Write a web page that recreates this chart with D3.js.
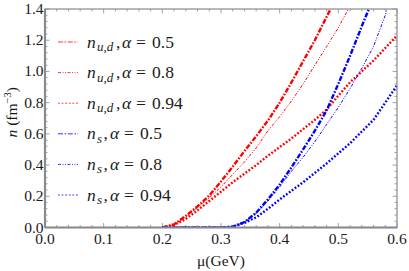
<!DOCTYPE html>
<html>
<head>
<meta charset="utf-8">
<script src="https://cdn.jsdelivr.net/npm/d3@7"></script>
<style>
  body { margin: 0; background: #fff; }
  text { font-family: "Liberation Serif", "DejaVu Serif", serif; }
</style>
</head>
<body>
<div id="chart"></div>
<script>
// data: [mu (GeV), n (fm^-3)]
const udAlpha05 = [[0.20,0],[0.22,0.02],[0.24,0.075],[0.26,0.135],[0.28,0.205],[0.30,0.295],[0.32,0.39],[0.33,0.44],[0.34,0.49],[0.36,0.585],[0.38,0.685],[0.40,0.80],[0.42,0.93],[0.44,1.065],[0.46,1.20],[0.48,1.35],[0.487,1.40]];
const udAlpha08 = [[0.20,0],[0.22,0.02],[0.24,0.07],[0.26,0.13],[0.28,0.19],[0.30,0.26],[0.32,0.34],[0.34,0.42],[0.36,0.51],[0.38,0.62],[0.40,0.71],[0.42,0.81],[0.44,0.92],[0.46,1.04],[0.48,1.16],[0.50,1.28],[0.517,1.40]];
const udAlpha094 = [[0.20,0],[0.22,0.015],[0.24,0.055],[0.26,0.11],[0.28,0.17],[0.30,0.23],[0.32,0.29],[0.34,0.345],[0.36,0.40],[0.38,0.46],[0.40,0.515],[0.42,0.57],[0.44,0.63],[0.46,0.69],[0.48,0.755],[0.50,0.845],[0.52,0.93],[0.54,1.00],[0.56,1.07],[0.58,1.15],[0.60,1.23]];
const sAlpha05 = [[0.20,0],[0.30,0],[0.32,0.005],[0.34,0.035],[0.36,0.095],[0.38,0.18],[0.40,0.275],[0.42,0.385],[0.44,0.50],[0.46,0.62],[0.48,0.75],[0.50,0.92],[0.52,1.10],[0.54,1.29],[0.552,1.40]];
const sAlpha08 = [[0.20,0],[0.30,0],[0.32,0.005],[0.34,0.035],[0.36,0.09],[0.38,0.17],[0.40,0.26],[0.42,0.36],[0.44,0.45],[0.46,0.55],[0.48,0.66],[0.50,0.77],[0.52,0.89],[0.54,1.02],[0.56,1.16],[0.58,1.36],[0.583,1.40]];
const sAlpha094 = [[0.20,0],[0.30,0],[0.32,0.005],[0.34,0.03],[0.36,0.065],[0.38,0.12],[0.40,0.18],[0.42,0.235],[0.44,0.29],[0.46,0.35],[0.48,0.41],[0.50,0.475],[0.52,0.54],[0.54,0.615],[0.56,0.69],[0.58,0.80],[0.60,0.91]];

const xTicks = [0.0, 0.1, 0.2, 0.3, 0.4, 0.5, 0.6];
const yTicks = [0.0, 0.2, 0.4, 0.6, 0.8, 1.0, 1.2, 1.4];
const alphaLabels = ["0.5", "0.8", "0.94", "0.5", "0.8", "0.94"];
const flavours = ["u,d", "u,d", "u,d", "s", "s", "s"];

const series = [
  { data: udAlpha05, color: "#ff0000", width: 2.4, dash: "5,1.6,1.6,1.6" },
  { data: udAlpha08, color: "#ff0000", width: 1, dash: "3,1.5,1,1.5,1,1.5" },
  { data: udAlpha094, color: "#ff0000", width: 2.4, dash: "1.8,1.8" },
  { data: sAlpha05, color: "#0000ff", width: 2.4, dash: "5,1.6,1.6,1.6" },
  { data: sAlpha08, color: "#0000ff", width: 1, dash: "3,1.5,1,1.5,1,1.5" },
  { data: sAlpha094, color: "#0000ff", width: 2.4, dash: "1.8,1.8" }
];

const width = 409, height = 271;
const margin = { left: 45, right: 12, top: 9, bottom: 43.5 };
const frameColor = "#8a8a8a";
const serif = "\"Liberation Serif\", \"DejaVu Serif\", serif";

const svg = d3.select("#chart").append("svg")
  .attr("width", width).attr("height", height);

const xScale = d3.scaleLinear().domain([0, 0.6]).range([margin.left, width - margin.right]);
const yScale = d3.scaleLinear().domain([0, 1.4]).range([height - margin.bottom, margin.top]);

const x0 = xScale(0), x1 = xScale(0.6), y0 = yScale(0), y1 = yScale(1.4);

// clip for curves
svg.append("clipPath").attr("id", "plotClip")
  .append("rect").attr("x", x0).attr("y", y1).attr("width", x1 - x0).attr("height", y0 - y1);

// minor and major ticks on all four sides
const xMinor = d3.range(0, 0.6001, 0.02);
const yMinor = d3.range(0, 1.4001, 0.04);
const tickG = svg.append("g").attr("stroke", frameColor).attr("stroke-width", 0.8);

xMinor.forEach(v => {
  const major = xTicks.some(t => Math.abs(t - v) < 1e-6);
  const len = major ? 4.5 : 2.5;
  tickG.append("line").attr("x1", xScale(v)).attr("x2", xScale(v)).attr("y1", y0).attr("y2", y0 - len);
  tickG.append("line").attr("x1", xScale(v)).attr("x2", xScale(v)).attr("y1", y1).attr("y2", y1 + len);
});
yMinor.forEach(v => {
  const major = yTicks.some(t => Math.abs(t - v) < 1e-6);
  const len = major ? 4.5 : 2.5;
  tickG.append("line").attr("y1", yScale(v)).attr("y2", yScale(v)).attr("x1", x0).attr("x2", x0 + len);
  tickG.append("line").attr("y1", yScale(v)).attr("y2", yScale(v)).attr("x1", x1).attr("x2", x1 - len);
});

// curves
const line = d3.line().x(d => xScale(d[0])).y(d => yScale(d[1]));
const curveG = svg.append("g").attr("clip-path", "url(#plotClip)");
series.forEach(s => {
  curveG.append("path")
    .attr("d", line(s.data))
    .attr("fill", "none")
    .attr("stroke", s.color)
    .attr("stroke-width", s.width)
    .attr("stroke-dasharray", s.dash);
});

// frame
svg.append("rect")
  .attr("x", x0).attr("y", y1).attr("width", x1 - x0).attr("height", y0 - y1)
  .attr("fill", "none").attr("stroke", frameColor).attr("stroke-width", 1.2);
svg.append("line").attr("x1", x0).attr("x2", x0).attr("y1", y1).attr("y2", y0)
  .attr("stroke", frameColor).attr("stroke-width", 2.2);
svg.append("line").attr("x1", x0).attr("x2", x1).attr("y1", y0).attr("y2", y0)
  .attr("stroke", frameColor).attr("stroke-width", 2.2);

// tick labels
svg.append("g").selectAll("text").data(xTicks).join("text")
  .attr("x", d => xScale(d)).attr("y", y0 + 16)
  .attr("text-anchor", "middle").attr("fill", "#1a1a1a")
  .style("font-family", serif).style("font-size", "15.5px")
  .text(d => d.toFixed(1));
svg.append("g").selectAll("text").data(yTicks).join("text")
  .attr("x", x0 - 1.5).attr("y", d => yScale(d) + 5)
  .attr("text-anchor", "end").attr("fill", "#1a1a1a")
  .style("font-family", serif).style("font-size", "15.5px")
  .text(d => d.toFixed(1));

// axis titles
svg.append("text")
  .attr("x", (x0 + x1) / 2).attr("y", 266)
  .attr("text-anchor", "middle").attr("fill", "#1a1a1a")
  .style("font-family", serif).style("font-size", "15.5px")
  .text("μ(GeV)");

const yTitle = svg.append("text")
  .attr("transform", `translate(17,${(y0 + y1) / 2 - 6}) rotate(-90)`)
  .attr("text-anchor", "middle").attr("fill", "#1a1a1a")
  .style("font-family", serif).style("font-size", "15.5px");
yTitle.append("tspan").style("font-style", "italic").text("n");
yTitle.append("tspan").text(" (fm");
yTitle.append("tspan").style("font-size", "10.5px").attr("dy", -6).text("−3");
yTitle.append("tspan").attr("dy", 6).text(")");

// legend: pieces placed at fixed offsets so the subscripted names line up like the original
const legendX = 58, legendY = 42, legendStep = 30.6;
series.forEach((s, i) => {
  const ly = legendY + i * legendStep;
  const ud = flavours[i] === "u,d";
  const tx = legendX + 29;
  svg.append("line")
    .attr("x1", legendX).attr("x2", legendX + 20).attr("y1", ly).attr("y2", ly)
    .attr("stroke", s.color).attr("stroke-width", 1).attr("stroke-opacity", 0.8)
    .attr("stroke-dasharray", s.dash);
  const t = svg.append("text")
    .attr("y", ly + 5.5).attr("fill", "#1a1a1a")
    .style("font-family", serif).style("font-size", "17.5px");
  t.append("tspan").attr("x", tx).style("font-style", "italic").text("n");
  t.append("tspan").attr("x", tx + 10).attr("dy", 3.5)
    .style("font-style", "italic").style("font-size", "13px")
    .text(flavours[i]);
  t.append("tspan").attr("x", tx + (ud ? 29 : 16.5)).attr("dy", -3.5).text(",");
  t.append("tspan").attr("x", tx + (ud ? 35 : 23)).style("font-style", "italic").text("α");
  t.append("tspan").attr("x", tx + (ud ? 49 : 37)).text("=");
  t.append("tspan").attr("x", tx + (ud ? 65 : 53)).text(alphaLabels[i]);
});
</script>
</body>
</html>
